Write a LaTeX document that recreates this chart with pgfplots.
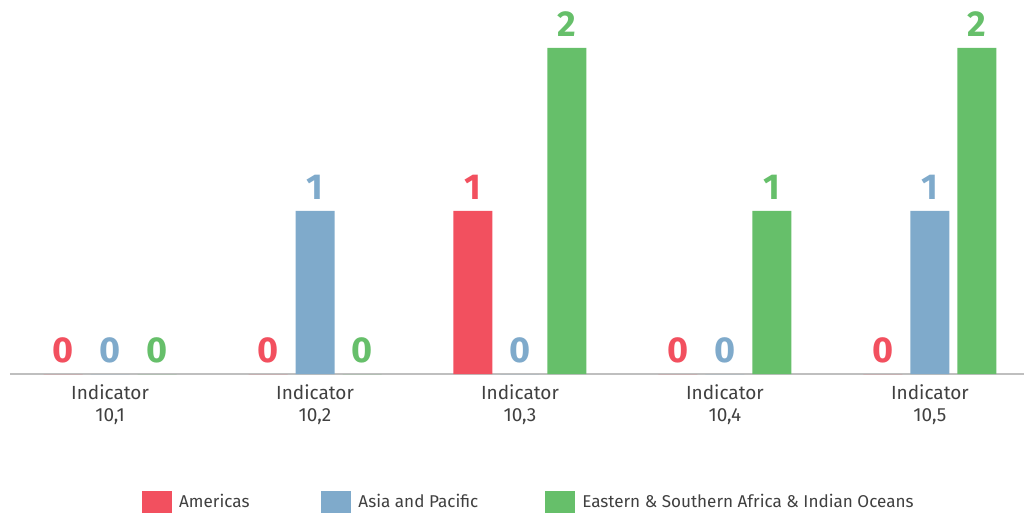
\documentclass[border=0pt]{standalone}
\usepackage{pgfplots}
\pgfplotsset{compat=1.18}
\usepackage{fontspec}
\setmainfont{Fira Sans}

\definecolor{amer}{HTML}{F2505F}
\definecolor{asia}{HTML}{7FAACB}
\definecolor{afri}{HTML}{66BF6A}
\definecolor{txt}{HTML}{404040}

\begin{document}
\begin{tikzpicture}
\begin{axis}[
    scale only axis,
    width=1014pt, height=366.75pt,
    xmin=-0.488, xmax=4.459,
    ymin=0, ymax=2.25,
    axis x line*=bottom,
    axis y line=none,
    x axis line style={draw=black!25, line width=1.3pt, -},
    ytick=\empty,
    xtick=data,
    xticklabels={{Indicator\\10,1},{Indicator\\10,2},{Indicator\\10,3},{Indicator\\10,4},{Indicator\\10,5}},
    major tick length=0pt,
    xticklabel style={align=center, font=\fontsize{19}{22}\selectfont, text=txt, inner sep=0pt, yshift=-10pt},
    /pgf/number format/assume math mode=true,
    ybar, bar width=39pt,
    clip=false,
    nodes near coords,
    every node near coord/.append style={font=\fontsize{36}{36}\selectfont\bfseries, inner sep=0pt, yshift=11pt},
    legend columns=3,
    legend style={draw=none, at={(rel axis cs:0.1272,-0.349)}, anchor=west,
        font=\fontsize{17.1}{20}\selectfont, text=txt,
        /tikz/every odd column/.append style={inner xsep=0pt},
        /tikz/column 2/.style={column sep=65pt},
        /tikz/column 4/.style={column sep=60pt}},
    legend image code/.code={\fill[#1] (0pt,-11pt) rectangle (30pt,11pt);},
    legend style={/tikz/every node/.append style={inner xsep=7pt}},
]
\addplot[fill=amer, draw=none, bar shift=-47pt, every node near coord/.append style={text=amer}]
    coordinates {(0,0) (1,0) (2,1) (3,0) (4,0)};
\addplot[fill=asia, draw=none, bar shift=0pt, every node near coord/.append style={text=asia}]
    coordinates {(0,0) (1,1) (2,0) (3,0) (4,1)};
\addplot[fill=afri, draw=none, bar shift=47pt, every node near coord/.append style={text=afri}]
    coordinates {(0,0) (1,0) (2,2) (3,1) (4,2)};
\legend{Americas, Asia and Pacific, Eastern \& Southern Africa \& Indian Oceans}
\end{axis}
\pgfresetboundingbox
\path (current axis.south west) ++(-10pt,-139pt) rectangle ++(1024pt,513pt);
\end{tikzpicture}
\end{document}
